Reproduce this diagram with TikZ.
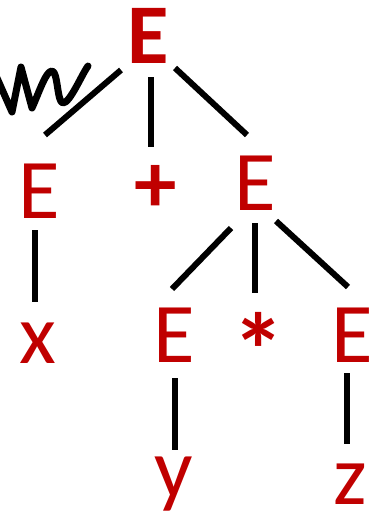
\documentclass[tikz,border=0pt]{standalone}
\usepackage{fontspec}
\setmainfont{Carlito}
\definecolor{tred}{RGB}{192,0,0}
\begin{document}
\begin{tikzpicture}[x=1pt,y=-1pt,
  sym/.style={text=tred,inner sep=0pt,anchor=base,font=\fontsize{85}{85}\selectfont},
  bsym/.style={sym,font=\fontsize{85}{85}\selectfont\bfseries},
  edge/.style={line width=6pt,black}]
\useasboundingbox (0,0) rectangle (377,512);
% nodes
\node[bsym] (E0) at (148,63) {E};
\node[sym] (E1) at (39,218) {E};
\node[bsym,anchor=center] (plus) at (156,189) {+};
\node[sym] (E2) at (255,210) {E};
\node[sym] (x) at (38,363) {x};
\node[sym] (E3) at (174,362) {E};
\node[bsym,anchor=center,font=\fontsize{105}{105}\selectfont\bfseries] (star) at (259,350) {*};
\node[sym] (E4) at (352,362) {E};
\node[sym] (y) at (174,497) {y};
\node[sym] (z) at (350,504) {z};
% connector end points
\coordinate (a0) at (121,70);  \coordinate (a1) at (45,135);
\coordinate (b0) at (151,77);  \coordinate (b1) at (151,147);
\coordinate (c0) at (175,68);  \coordinate (c1) at (247,135);
\coordinate (d0) at (35,230);  \coordinate (d1) at (35,302);
\coordinate (e0) at (231,228); \coordinate (e1) at (172,289);
\coordinate (f0) at (255,223); \coordinate (f1) at (255,293);
\coordinate (g0) at (276,221); \coordinate (g1) at (348,287);
\coordinate (h0) at (175,378); \coordinate (h1) at (175,450);
\coordinate (i0) at (347,373); \coordinate (i1) at (347,444);
\draw[edge] (a0) -- (a1);
\draw[edge] (b0) -- (b1);
\draw[edge] (c0) -- (c1);
\draw[edge] (d0) -- (d1);
\draw[edge] (e0) -- (e1);
\draw[edge] (f0) -- (f1);
\draw[edge] (g0) -- (g1);
\draw[edge] (h0) -- (h1);
\draw[edge] (i0) -- (i1);
% hand-drawn scribble
\coordinate (s0) at (-3,78);
\draw[line width=7pt,line cap=round,line join=round]
  (s0) -- (12,112) -- (21,67) -- (32,108)
       .. controls (40,90) and (46,71) .. (52,71)
       .. controls (58,71) and (57,103) .. (63,103)
       .. controls (70,103) and (82,74) .. (88,66);
\end{tikzpicture}
\end{document}
